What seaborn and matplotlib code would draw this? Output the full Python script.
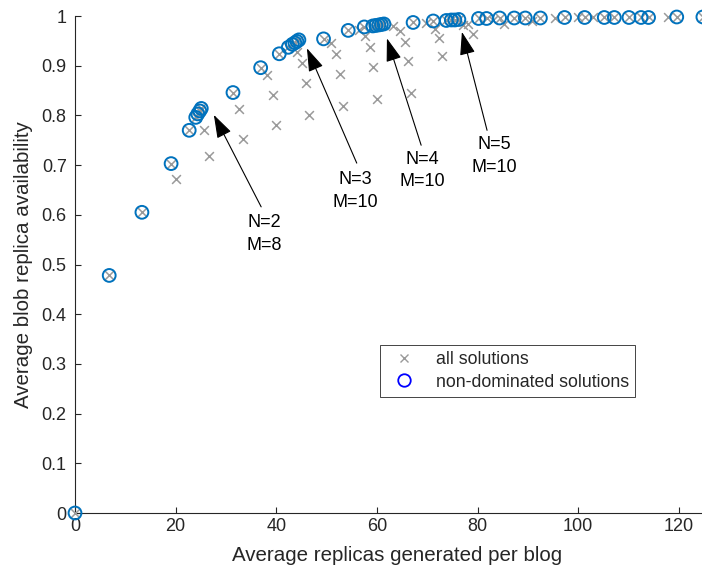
import numpy as np
import pandas as pd
import matplotlib
matplotlib.use("Agg")
import matplotlib.pyplot as plt
from matplotlib.lines import Line2D
from matplotlib.ticker import FuncFormatter
import seaborn as sns

# non-dominated solutions (blue circles)
nd_x = [0, 6.8, 13.3, 19.1, 22.7, 24.0, 24.4, 24.8, 25.1, 31.4, 36.9, 40.6,
        42.4, 43.2, 43.7, 44.1, 44.5, 49.4, 54.3, 57.5, 59.2, 59.8, 60.4, 60.9,
        61.4, 67.2, 71.2, 73.8, 74.8, 75.5, 76.3, 80.2, 81.8, 84.4, 87.3, 89.5,
        92.5, 97.3, 101.3, 105.2, 107.2, 110.1, 112.5, 114.0, 119.6, 124.8]
nd_y = [0, 0.478, 0.605, 0.703, 0.770, 0.796, 0.803, 0.809, 0.814, 0.846, 0.896, 0.924,
        0.937, 0.943, 0.946, 0.949, 0.952, 0.954, 0.971, 0.978, 0.980, 0.981, 0.982, 0.983,
        0.984, 0.987, 0.990, 0.991, 0.992, 0.992, 0.993, 0.995, 0.995, 0.996, 0.996, 0.996,
        0.996, 0.997, 0.997, 0.997, 0.997, 0.997, 0.997, 0.997, 0.998, 0.998]

# dominated solutions (only crosses)
dom_x = [20.0, 25.7, 26.6, 32.5, 33.3, 38.2, 39.3, 40.0, 44.1, 45.2, 46.0, 46.6,
         50.9, 51.9, 52.7, 53.3, 56.5, 57.7, 58.7, 59.3, 60.0, 63.3, 64.6, 65.5,
         66.2, 66.7, 69.8, 71.6, 72.4, 73.0, 77.2, 78.2, 79.2, 83.0, 85.2, 90.8,
         95.4, 100.0, 102.9, 117.9]
dom_y = [0.672, 0.770, 0.718, 0.813, 0.752, 0.882, 0.842, 0.780, 0.927, 0.906, 0.865, 0.800,
         0.945, 0.924, 0.884, 0.818, 0.971, 0.959, 0.937, 0.898, 0.833, 0.979, 0.969, 0.948,
         0.909, 0.846, 0.985, 0.973, 0.955, 0.919, 0.981, 0.983, 0.964, 0.992, 0.984, 0.990,
         0.996, 0.997, 0.997, 0.997]

# annotations: label, arrow tip, arrow tail, text centre
ann_labels = ["N=2\nM=8", "N=3\nM=10", "N=4\nM=10", "N=5\nM=10"]
ann_tip = [(27.6, 0.801), (46.1, 0.935), (62.0, 0.955), (76.9, 0.968)]
ann_tail = [(37.0, 0.616), (56.0, 0.704), (68.8, 0.740), (81.9, 0.770)]
ann_text = [(37.7, 0.562), (55.7, 0.648), (69.0, 0.689), (83.3, 0.719)]

all_df = pd.DataFrame({"x": nd_x + dom_x, "y": nd_y + dom_y})
nd_df = pd.DataFrame({"x": nd_x, "y": nd_y})

sns.set_style("ticks")
plt.rcParams["font.family"] = ["Liberation Sans", "DejaVu Sans"]

gray = "#9a9a9a"
blue = "#0072BD"
axcol = "#262626"

# axes runs a little past the right edge of the picture (cropped figure)
fig = plt.figure(figsize=(7.02, 5.77), dpi=100)
ax = fig.add_axes([75 / 702, 64 / 577, 644 / 702, 497 / 577])

sns.scatterplot(data=all_df, x="x", y="y", marker="x", color=gray, s=40,
                linewidth=1.1, ax=ax, clip_on=False, zorder=3)
sns.scatterplot(data=nd_df, x="x", y="y", marker="o", color=blue, facecolor="none",
                edgecolor=blue, s=85, linewidth=1.4, ax=ax, clip_on=False, zorder=4)

for lab, tip, tail, tp in zip(ann_labels, ann_tip, ann_tail, ann_text):
    ax.annotate("", xy=tip, xytext=tail,
                arrowprops=dict(arrowstyle="-|>,head_length=0.9,head_width=0.3",
                                color="k", lw=0.8, mutation_scale=16, shrinkA=0, shrinkB=0))
    ax.text(tp[0], tp[1], lab, ha="center", va="center", fontsize=13,
            linespacing=1.45, color="k")

ax.set_xlim(0, 128.0)
ax.set_ylim(0, 1)
ax.set_xticks(np.arange(0, 121, 20))
ax.set_yticks(np.arange(0, 1.01, 0.1))
ax.yaxis.set_major_formatter(FuncFormatter(lambda v, p: f"{v:g}"))
ax.tick_params(direction="in", length=4.5, width=0.8, colors=axcol, labelsize=13)
ax.tick_params(axis="y", pad=6)
for s in ["top", "right"]:
    ax.spines[s].set_visible(False)
for s in ["left", "bottom"]:
    ax.spines[s].set_color(axcol)
    ax.spines[s].set_linewidth(0.8)

ax.set_xlabel("Average replicas generated per blog", fontsize=14.8, color=axcol, labelpad=8)
ax.set_ylabel("Average blob replica availability", fontsize=14.8, color=axcol, labelpad=6)

handles = [Line2D([], [], marker="x", color=gray, ls="", ms=6, mew=1.0),
           Line2D([], [], marker="o", color="blue", mfc="none", ls="", ms=9, mew=1.3)]
leg = ax.legend(handles, ["all solutions", "non-dominated solutions"],
                loc="upper left", bbox_to_anchor=(305 / 644, 0.338), fontsize=12.8,
                frameon=True, fancybox=False, framealpha=1, edgecolor=axcol,
                handletextpad=0.8, borderpad=0.35, labelspacing=0.3, borderaxespad=0)
leg.get_frame().set_linewidth(0.6)

fig.savefig("out.png", dpi=100)
